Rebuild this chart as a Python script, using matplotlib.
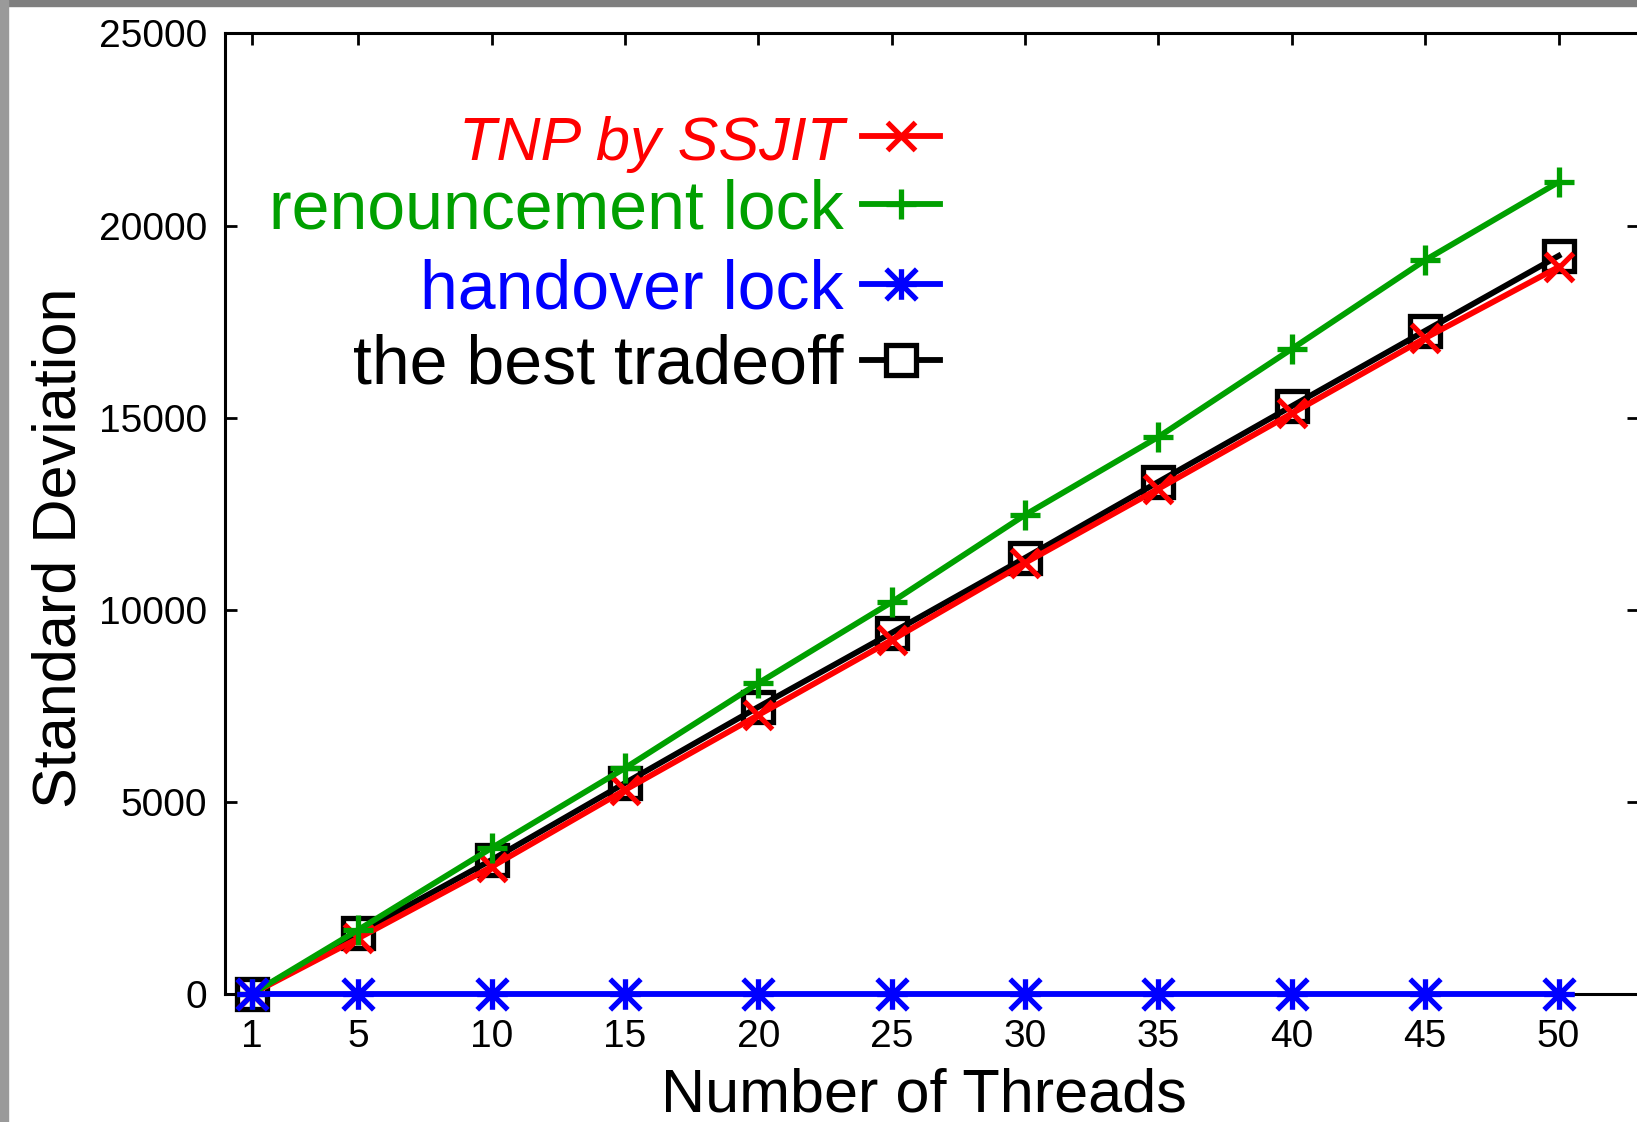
"""
Standard deviation vs number of threads for the four lock variants (gnuplot-style look).
Output: out.png
"""

import matplotlib
matplotlib.use("Agg")
import matplotlib.pyplot as plt
from matplotlib.path import Path
from matplotlib.patches import Rectangle

plt.rcParams["font.family"] = ["Liberation Sans", "DejaVu Sans"]

RED, GREEN, BLUE, BLACK = "#ff0000", "#00a000", "#0000ff", "#000000"

# ---- data ----
THREADS = [1, 5, 10, 15, 20, 25, 30, 35, 40, 45, 50]
TNP = [0, 1450, 3310, 5310, 7260, 9210, 11220, 13150, 15110, 17070, 18920]
RENOUNCE = [0, 1670, 3800, 5880, 8090, 10200, 12470, 14500, 16790, 19100, 21130]
HANDOVER = [0, 0, 0, 0, 0, 0, 0, 0, 0, 0, 0]
BEST = [0, 1590, 3490, 5490, 7470, 9400, 11350, 13330, 15300, 17260, 19210]
YTICKS = [0, 5000, 10000, 15000, 20000, 25000]

# gnuplot point type 3: "+" and "x" overlaid
ASTERISK = Path([(0, -1), (0, 1), (-1, 0), (1, 0), (-1, -1), (1, 1), (-1, 1), (1, -1)],
                [Path.MOVETO, Path.LINETO] * 4)

W, H = 1637, 1122
LW, MEW = 4.2, 3.8
fig = plt.figure(figsize=(W / 100, H / 100), dpi=100)
# right spine sits just outside the image, as in the reference crop
ax = fig.add_axes([224.9 / W, 128 / H, 1413.7 / W, 960.6 / H])

# (values, colour, marker, size, zorder) -- drawn black first, blue last
SERIES = [
    (BEST, BLACK, "s", 21, 2),
    (TNP, RED, "x", 20, 3),
    (RENOUNCE, GREEN, "+", 22, 4),
    (HANDOVER, BLUE, ASTERISK, 22, 5),
]
for vals, col, mk, ms, z in SERIES:
    ax.plot(THREADS, vals, color=col, lw=LW, marker=mk, ms=ms, mew=MEW,
            mfc="none", mec=col, zorder=z, clip_on=False)

ax.set_xlim(0, 53)
ax.set_ylim(0, 25000)
ax.set_xticks(THREADS)
ax.set_yticks(YTICKS)
ax.tick_params(direction="in", length=8.6, width=2, top=True, right=True,
               labelsize=28)
ax.tick_params(axis="y", pad=13)
ax.tick_params(axis="x", pad=18)
for sp in ax.spines.values():
    sp.set_linewidth(2.2)

ax.set_xlabel("Number of Threads", fontsize=44)
ax.xaxis.set_label_coords(0.4945, -0.1228)
ax.xaxis.label.set_va("baseline")
ax.set_ylabel("Standard Deviation", fontsize=44, rotation=90)
ax.yaxis.set_label_coords(-0.106, 0.4643)
ax.yaxis.label.set_va("baseline")
ax.yaxis.label.set_ha("center")
ax.yaxis.label.set_rotation_mode("anchor")

# ---- key: right-aligned text, sample line to the right ----
KEY = [
    ("TNP by SSJIT", RED, "x", 20, True),
    ("renouncement lock", GREEN, "+", 22, False),
    ("handover lock", BLUE, ASTERISK, 22, False),
    ("the best tradeoff", BLACK, "s", 21, False),
]
KEY_Y = [136, 204, 284, 360]   # row centres in image pixels
to_ax_x = lambda px: (px - 224.9) / 1413.7
to_ax_y = lambda py: (994 - py) / 960.6
for (label, col, mk, ms, italic), py in zip(KEY, KEY_Y):
    ax.text(to_ax_x(844), to_ax_y(py + 24), label, color=col,
            fontsize=44 if italic else 49, ha="right", va="baseline",
            style="italic" if italic else "normal", transform=ax.transAxes)
    ax.plot([to_ax_x(862), to_ax_x(940)], [to_ax_y(py)] * 2, color=col, lw=LW,
            transform=ax.transAxes, clip_on=False)
    ax.plot([to_ax_x(901)], [to_ax_y(py)], marker=mk, ms=ms, mew=MEW, color=col,
            mfc="white" if mk == "s" else "none", transform=ax.transAxes,
            clip_on=False)

# grey window frame on the top and left edge
fig.patches.append(Rectangle((0, 1 - 6 / H), 1, 6 / H, transform=fig.transFigure,
                             color="#7f7f7f", zorder=10))
fig.patches.append(Rectangle((0, 0), 8 / W, 1, transform=fig.transFigure,
                             color="#9a9a9a", zorder=10))

fig.savefig("out.png", dpi=100)
